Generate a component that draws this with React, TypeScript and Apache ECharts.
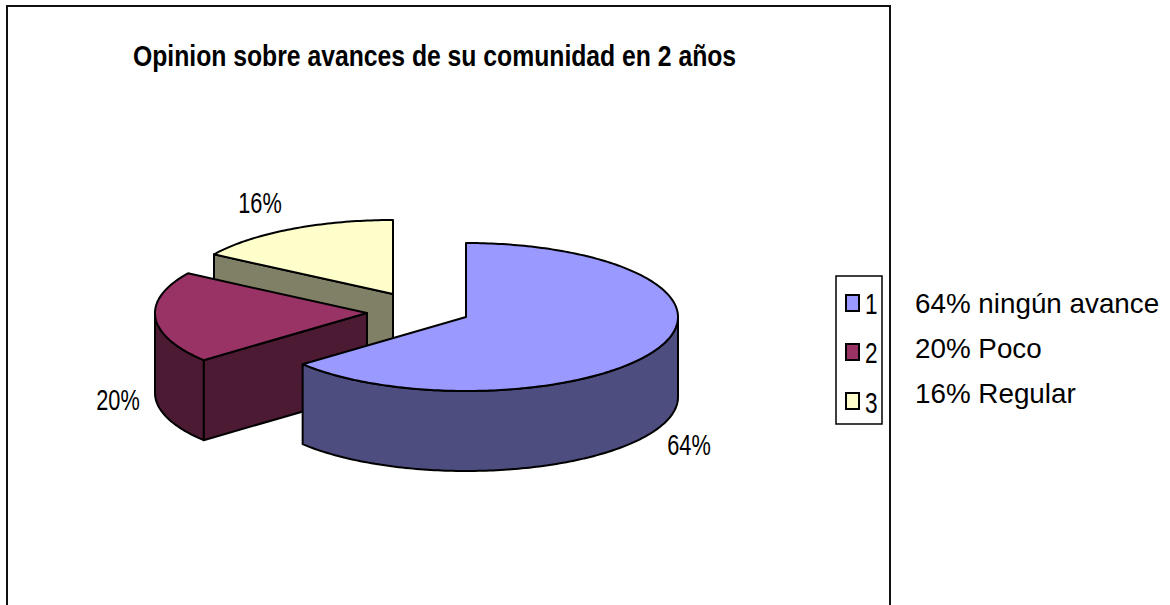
import React, { useEffect, useRef } from "react";
import * as echarts from "echarts";

const categories = ["1", "2", "3"];
const values = [64, 20, 16];
const labels = ["64%", "20%", "16%"];
const notes = ["64% ningún avance", "20% Poco", "16% Regular"];
const titleText = "Opinion sobre avances de su comunidad en 2 años";

const topColors = ["#9999FF", "#993366", "#FFFFCC"];
const wallColors = ["#4D4D80", "#4D1A33", "#808066"];
const apexes = [[466, 317], [367, 313], [393, 294]];
const labelPos = [[689, 445], [118, 400], [260, 203]];
const RX = 212, RY = 74, DEPTH = 80;
const FONT = "'Liberation Sans', Arial, sans-serif";

const total = values.reduce((a, b) => a + b, 0);
const starts = values.map((_, i) => (values.slice(0, i).reduce((a, b) => a + b, 0) / total) * 360);

function pt(a: number[], deg: number, dy = 0) {
  const r = (deg * Math.PI) / 180;
  return [a[0] + RX * Math.sin(r), a[1] - RY * Math.cos(r) + dy];
}
function arc(a: number[], from: number, to: number, dy = 0) {
  const out: number[][] = [];
  const n = Math.max(2, Math.ceil(Math.abs(to - from)));
  for (let k = 0; k <= n; k++) out.push(pt(a, from + ((to - from) * k) / n, dy));
  return out;
}

function renderSlice(i: number) {
  return () => {
    const a = apexes[i];
    const s = starts[i];
    const e = s + (values[i] / total) * 360;
    const stroke = { stroke: "#000", lineWidth: 2, lineJoin: "round" };
    const children: any[] = [];
    // vertical cut face, visible when the start edge lies in the left half
    if (Math.sin((s * Math.PI) / 180) < -0.01) {
      children.push({
        type: "polygon",
        shape: { points: [pt(a, s), a, [a[0], a[1] + DEPTH], pt(a, s, DEPTH)] },
        style: { fill: wallColors[i], ...stroke },
      });
    }
    // outer wall: the front half of the rim
    const w0 = Math.max(s, 90), w1 = Math.min(e, 270);
    if (w1 > w0) {
      children.push({
        type: "polygon",
        shape: { points: [...arc(a, w0, w1), ...arc(a, w1, w0, DEPTH)] },
        style: { fill: wallColors[i], ...stroke },
      });
    }
    children.push({
      type: "polygon",
      shape: { points: [a, ...arc(a, s, e)] },
      style: { fill: topColors[i], ...stroke },
    });
    children.push({
      type: "text",
      x: labelPos[i][0],
      y: labelPos[i][1],
      scaleX: 0.75,
      style: {
        text: labels[i], fontFamily: FONT, fontSize: 29, fill: "#000",
        align: "center", verticalAlign: "middle",
      },
    });
    return { type: "group", children };
  };
}

export default function App() {
  const ref = useRef<HTMLDivElement>(null);
  useEffect(() => {
    const chart = echarts.init(ref.current!, undefined, { renderer: "svg" });
    chart.setOption({
      animation: false,
      backgroundColor: "#fff",
      legend: {
        data: categories, orient: "vertical", left: 836, top: 276,
        padding: [18, 22, 14, 9], itemWidth: 13, itemHeight: 16, itemGap: 31,
        borderColor: "#000", borderWidth: 1.5, icon: "rect", selectedMode: false,
        formatter: () => "",
        textStyle: { fontSize: 10 },
      },
      series: [2, 1, 0].map((i) => ({
        type: "custom",
        name: categories[i],
        coordinateSystem: "none",
        renderItem: renderSlice(i),
        data: [values[i]],
        itemStyle: { color: topColors[i], borderColor: "#000", borderWidth: 1.5 },
        silent: true,
      })),
      graphic: [
        {
          type: "polyline",
          shape: { points: [[7, 605], [7, 6], [890, 6], [890, 605]] },
          style: { stroke: "#111", lineWidth: 2, fill: "none" },
          silent: true,
        },
        {
          type: "text", x: 133, y: 56, scaleX: 0.853,
          style: { text: titleText, fontFamily: FONT, fontWeight: "bold", fontSize: 29, fill: "#000", verticalAlign: "middle" },
          silent: true,
        },
        ...categories.map((t, k) => ({
          type: "text", x: 865, y: [304, 353, 403][k], scaleX: 0.78,
          style: { text: t, fontFamily: FONT, fontSize: 29, fill: "#000", verticalAlign: "middle" },
          silent: true,
        })),
        ...notes.map((t, k) => ({
          type: "text", x: 915, y: [303, 348, 393][k],
          style: { text: t, fontFamily: FONT, fontSize: 27.8, fill: "#000", verticalAlign: "middle" },
          silent: true,
        })),
      ],
    });
    return () => chart.dispose();
  }, []);
  return <div ref={ref} style={{ position: "fixed", left: 0, top: 0, width: 1170, height: 605 }} />;
}
